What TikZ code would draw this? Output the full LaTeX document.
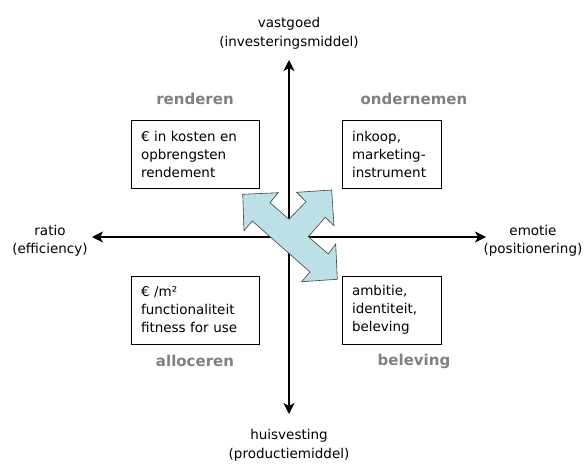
\documentclass[tikz,border=0pt]{standalone}
\usepackage{fontspec}
\setmainfont{DejaVu Sans}
\usetikzlibrary{arrows.meta, positioning}
\definecolor{lichtblauw}{RGB}{188,224,229}
\definecolor{kwadrant}{RGB}{128,128,128}

\begin{document}
\begin{tikzpicture}[
    x=1pt, y=-1pt,
    txt/.style={font=\fontsize{13.5}{18.5}\selectfont, align=center, inner sep=0pt},
    box/.style={rectangle, draw, line width=0.8pt, minimum height=68pt, inner xsep=10pt, align=left, font=\fontsize{13.5}{18}\selectfont},
    quad/.style={font=\fontsize{15}{18}\selectfont\bfseries, text=kwadrant},
    axis/.style={{Stealth[length=11pt, width=11pt, inset=3pt]}-{Stealth[length=11pt, width=11pt, inset=3pt]}, line width=1.6pt}
]
\useasboundingbox (0,0) rectangle (586,465);

% axes
\coordinate (top) at (289,60);
\coordinate (bottom) at (289,414);
\coordinate (left) at (92,237);
\coordinate (right) at (486,237);
\draw[axis] (top) -- (bottom);
\draw[axis] (left) -- (right);

\node[txt] (vastgoed) at (289,33.5) {vastgoed\\(investeringsmiddel)};
\node[txt] (huisvesting) at (289,445.5) {huisvesting\\(productiemiddel)};
\node[txt] (ratio) at (50,241) {ratio\\(efficiency)};
\node[txt] (emotie) at (533,241) {emotie\\(positionering)};

% quadrants
\node[box, text width=108pt] (rendement) at (195,154) {€ in kosten en\\opbrengsten\\rendement};
\node[box, text width=79pt] (inkoop) at (391.5,154) {inkoop,\\marketing-\\instrument};
\node[box, text width=108pt] (functie) at (195,310) {€ /m²\\functionaliteit\\fitness for use};
\node[box, text width=79pt] (ambitie) at (391.5,310) {ambitie,\\identiteit,\\beleving};

\node[quad] (renderen) at (195,99) {renderen};
\node[quad] (ondernemen) at (414,99) {ondernemen};
\node[quad] (alloceren) at (195,361) {alloceren};
\node[quad] (beleving) at (414,361) {beleving};

% three-way arrow
\filldraw[fill=lichtblauw, draw=black!75, line width=0.6pt]
    (242.7,194.3) -- (278.3,192.7) -- (270,202.7) -- (289,219.3)
    -- (306,201.7) -- (296.7,192.3) -- (331.7,190) -- (334,225.7)
    -- (325.3,217.3) -- (308.3,236.7) -- (328.3,254) -- (335.7,244)
    -- (337.3,279.3) -- (301.7,281.7) -- (310,272) -- (252.3,221)
    -- (244,230.7) -- cycle;
\end{tikzpicture}
\end{document}
